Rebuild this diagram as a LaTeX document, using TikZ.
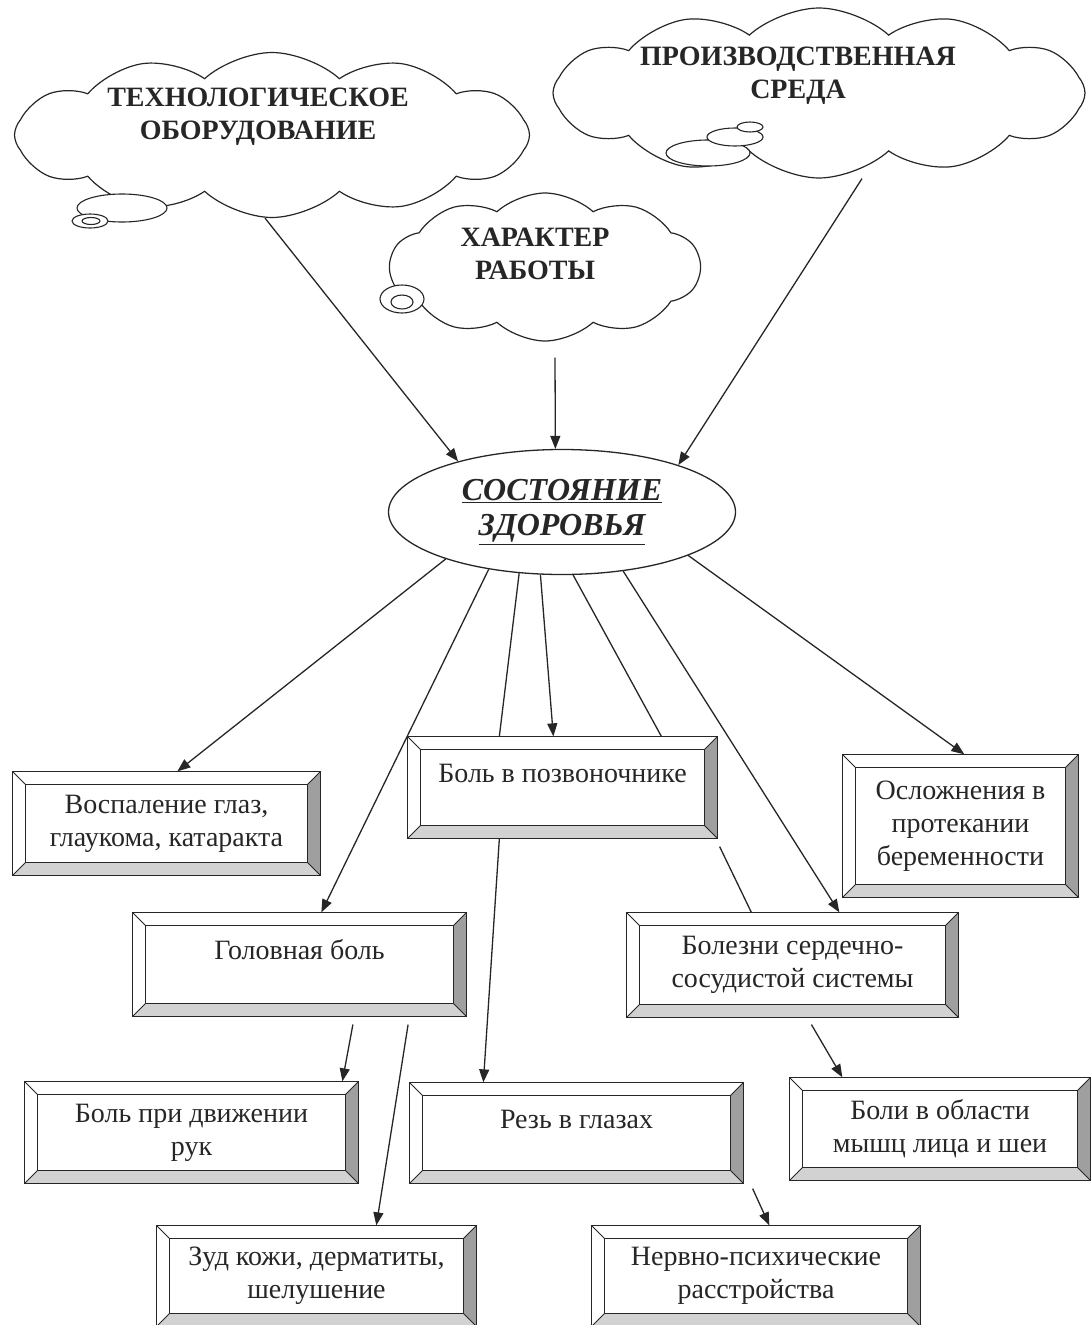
\documentclass[tikz,border=0pt]{standalone}
\usepackage{fontspec}
\setmainfont{Liberation Serif}
\usetikzlibrary{positioning, arrows.meta, shapes.geometric, shapes.symbols}

\begin{document}
\begin{tikzpicture}[
    x=1pt, y=-1pt,
    line width=1.3pt, color=black!85,
    cloudbox/.style={cloud, draw, fill=white, line width=1.2pt, cloud puffs=12, cloud puff arc=85, cloud ignores aspect, inner sep=0pt},
    cloudtext/.style={align=center, font=\fontsize{28}{33}\selectfont\bfseries},
    bubble/.style={draw, fill=white, line width=1.1pt},
    health/.style={ellipse, draw, fill=white, minimum width=347pt, minimum height=125pt, inner sep=0pt, align=center, font=\fontsize{32}{35}\selectfont\bfseries\itshape},
    bevelbox/.style={rectangle, inner sep=0pt, align=center, font=\fontsize{28}{33}\selectfont},
    uptext/.style={text height=19pt, text depth=29pt},
    arr/.style={-{Triangle[length=13pt, width=10pt]}},
    gap/.style={shorten <=8pt}
]
\useasboundingbox (0,0) rectangle (1091,1325);

% clouds
\node[cloudbox, minimum width=515pt, minimum height=165pt] (techcloud) at (272,135) {};
\node[cloudbox, minimum width=532pt, minimum height=170pt] (envcloud) at (819,93) {};
\node[cloudbox, minimum width=310pt, minimum height=148pt, cloud puffs=10] (workcloud) at (545,267) {};
\draw[bubble] (122,208) ellipse [x radius=45pt, y radius=14pt];
\draw[bubble] (90,221) ellipse [x radius=18pt, y radius=7pt];
\draw[bubble] (91,221) ellipse [x radius=9pt, y radius=3.5pt];
\draw[bubble] (708,153) ellipse [x radius=42pt, y radius=13pt];
\draw[bubble] (735,137) ellipse [x radius=28pt, y radius=9pt];
\draw[bubble] (750,127) ellipse [x radius=13pt, y radius=5pt];
\draw[bubble] (402,299) ellipse [x radius=22pt, y radius=14pt];
\draw[bubble] (402,302) ellipse [x radius=11pt, y radius=7pt];
\node[cloudtext] (tech) at (258,117) {ТЕХНОЛОГИЧЕСКОЕ\\ОБОРУДОВАНИЕ};
\node[cloudtext] (env) at (798,76) {ПРОИЗВОДСТВЕННАЯ\\СРЕДА};
\node[cloudtext] (work) at (535,254) {ХАРАКТЕР\\РАБОТЫ};

% centre
\node[health] (health) at (562,512) {\underline{СОСТОЯНИЕ}\\\underline{ЗДОРОВЬЯ}};

% boxes
\node[bevelbox, minimum width=307pt, minimum height=103pt] (vosp) at (166.5,823.5) {Воспаление глаз,\\глаукома, катаракта};
\node[bevelbox, uptext, minimum width=309pt, minimum height=101pt] (pozv) at (562.5,787.5) {Боль в позвоночнике};
\node[bevelbox, minimum width=235pt, minimum height=142pt] (berem) at (960.5,826) {Осложнения в\\протекании\\беременности};
\node[bevelbox, uptext, minimum width=333pt, minimum height=103pt] (golova) at (299.5,964.5) {Головная боль};
\node[bevelbox, minimum width=331pt, minimum height=104pt] (serdce) at (792.5,965) {Болезни сердечно-\\сосудистой системы};
\node[bevelbox, minimum width=333pt, minimum height=101pt] (ruki) at (191.5,1132.5) {Боль при движении\\рук};
\node[bevelbox, uptext, minimum width=333pt, minimum height=100pt] (rez) at (576.5,1133) {Резь в глазах};
\node[bevelbox, minimum width=300pt, minimum height=102pt] (lico) at (940,1129) {Боли в области\\мышц лица и шеи};
\node[bevelbox, minimum width=319pt, minimum height=100pt] (zud) at (316.5,1276) {Зуд кожи, дерматиты,\\шелушение};
\node[bevelbox, minimum width=328pt, minimum height=100pt] (nervy) at (756,1276) {Нервно-психические\\расстройства};

\foreach \bx in {vosp, pozv, berem, golova, serdce, ruki, rez, lico, zud, nervy} {
    \fill[gray!35] (\bx.south west) -- (\bx.south east) -- ([shift={(-13pt,13pt)}]\bx.south east) -- ([shift={(13pt,13pt)}]\bx.south west) -- cycle;
    \fill[gray!75] (\bx.north east) -- (\bx.south east) -- ([shift={(-13pt,13pt)}]\bx.south east) -- ([shift={(-13pt,-13pt)}]\bx.north east) -- cycle;
    \draw (\bx.north west) rectangle (\bx.south east);
    \draw ([shift={(13pt,-13pt)}]\bx.north west) rectangle ([shift={(-13pt,13pt)}]\bx.south east);
    \draw[line width=0.9pt] (\bx.north west) -- ++(13pt,-13pt) (\bx.north east) -- ++(-13pt,-13pt)
        (\bx.south east) -- ++(-13pt,13pt) (\bx.south west) -- ++(13pt,13pt);
}

% clouds to centre
\draw[arr] ([xshift=-7pt]techcloud.south) -- (health.154);
\draw[arr] ([shift={(10pt,-16pt)}]workcloud.south) -- (health.96);
\draw[arr] ([xshift=43pt]envcloud.south) -- (health.22);

% centre to boxes
\draw[arr] (health.202) -- ([xshift=165pt]vosp.north west);
\draw[arr] (health.218) -- ([xshift=189pt]golova.north west);
\draw (health.235) -- ([xshift=92pt]pozv.north west);
\draw[arr] ([xshift=92pt]pozv.south west) -- ([xshift=74pt]rez.north west);
\draw[arr] (health.251) -- ([xshift=146pt]pozv.north west);
\draw (health.280) -- ([xshift=254pt]pozv.north west);
\draw ([shift={(2pt,-8pt)}]pozv.south east) -- ([xshift=125pt]serdce.north west);
\draw[arr, gap] ([xshift=181pt]serdce.south west) -- ([xshift=53pt]lico.north west);
\draw[arr] (health.316) -- ([xshift=213pt]serdce.north west);
\draw[arr] (health.341) -- ([xshift=122pt]berem.north west);

% second level
\draw[arr, gap] ([xshift=222pt]golova.south west) -- ([xshift=318pt]ruki.north west);
\draw[arr, gap] ([xshift=277pt]golova.south west) -- ([xshift=220pt]zud.north west);
\draw[arr] ([shift={(9pt,-5pt)}]rez.south east) -- ([xshift=178pt]nervy.north west);
\end{tikzpicture}
\end{document}
